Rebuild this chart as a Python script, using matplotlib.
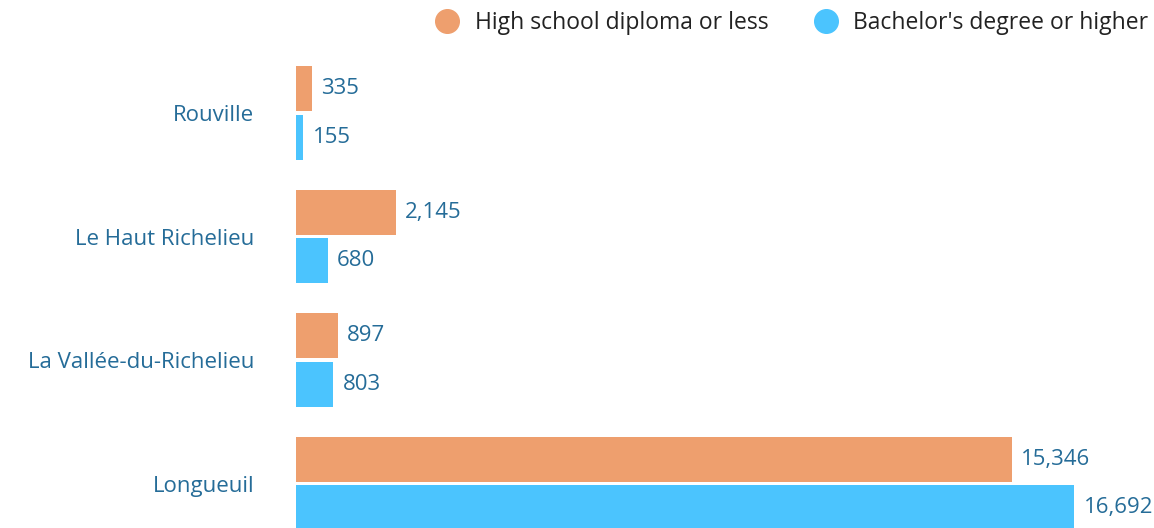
import numpy as np
import matplotlib
matplotlib.use("Agg")
import matplotlib.pyplot as plt

# data
regions = ["Rouville", "Le Haut Richelieu", "La Vallée-du-Richelieu", "Longueuil"]
high_school = [335, 2145, 897, 15346]
bachelor = [155, 680, 803, 16692]
series_names = ["High school diploma or less", "Bachelor's degree or higher"]

orange = "#EE9F6E"
blue = "#4BC4FE"
text_blue = "#256C98"

plt.rcParams['font.family'] = ['Open Sans', 'DejaVu Sans']

fig = plt.figure(figsize=(11.54, 5.28), dpi=100)
ax = fig.add_axes([296 / 1154, 0, 1 - 296 / 1154, 1])

y = np.arange(len(regions))
h = 0.365
off = 0.195
b1 = ax.barh(y - off, high_school, height=h, color=orange, label=series_names[0])
b2 = ax.barh(y + off, bachelor, height=h, color=blue, label=series_names[1])

for bars, vals in [(b1, high_school), (b2, bachelor)]:
    for bar, v in zip(bars, vals):
        ax.text(bar.get_width() + 200, bar.get_y() + bar.get_height() / 2, f"{v:,}",
                ha='left', va='center', fontsize=16, color=text_blue)

ax.set_xlim(0, 18400)
ax.set_ylim(3.36, -0.915)
ax.set_yticks(y)
ax.set_yticklabels(regions, fontsize=16, color=text_blue)
ax.tick_params(axis='y', length=0, pad=30)
ax.set_xticks([])
for s in ax.spines.values():
    s.set_visible(False)

handles = [plt.Line2D([], [], marker='o', linestyle='', markersize=17, color=c) for c in (orange, blue)]
fig.legend(handles, series_names, loc='upper right', bbox_to_anchor=(1.013, 1.018), ncol=2,
           frameon=False, fontsize=16.5, handletextpad=0.2, columnspacing=1.5, labelcolor='#222222')

fig.savefig("out.png", dpi=100)
